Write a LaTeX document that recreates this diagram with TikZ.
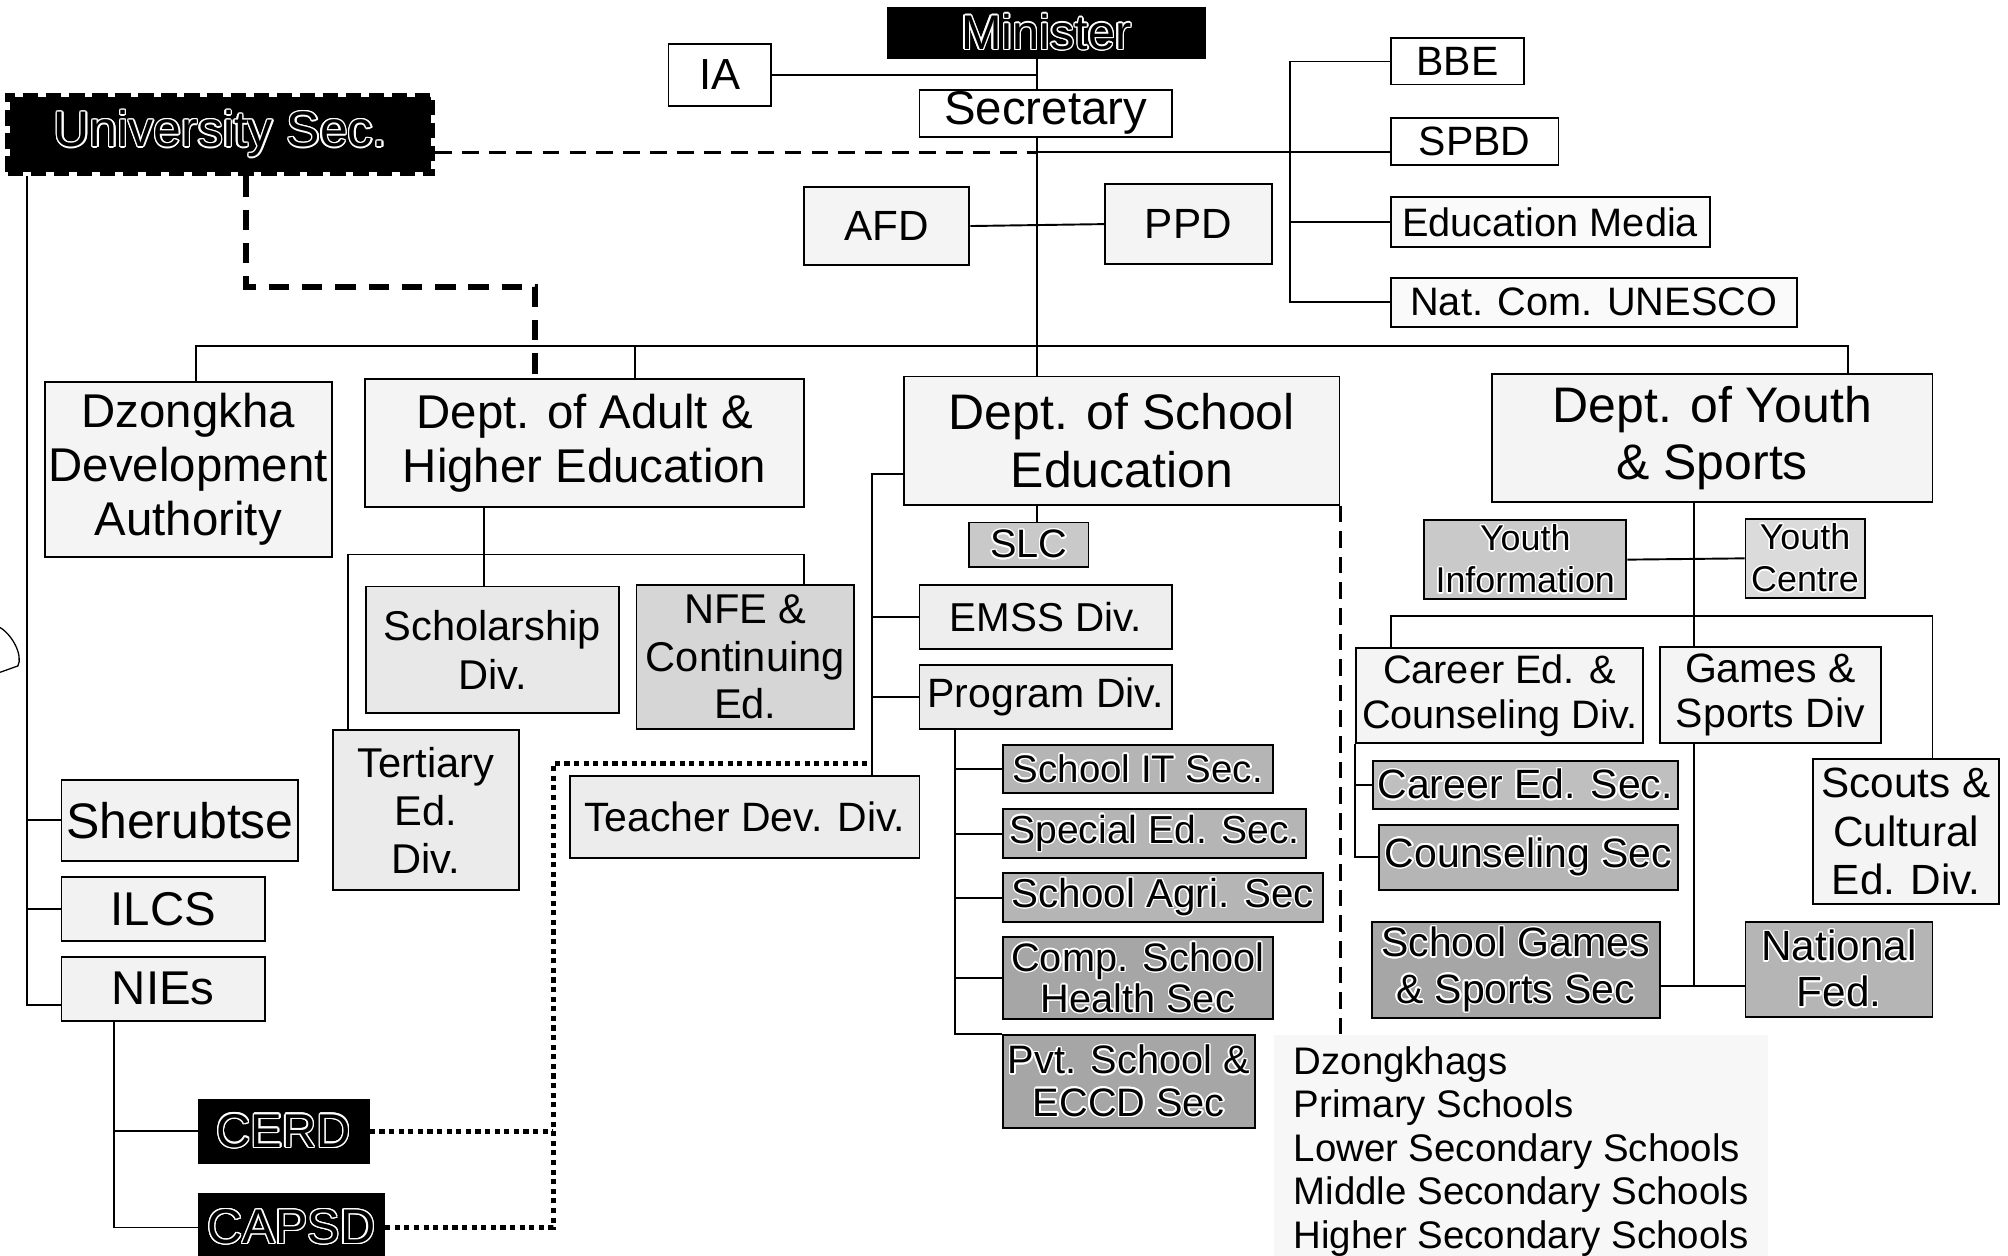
\documentclass[tikz,border=0pt]{standalone}
\usepackage{fontspec}
\setmainfont{Liberation Sans}
\usepackage{contour}
\contourlength{1.1pt}
\newcommand\fz[2]{\fontsize{#1}{#2}\selectfont}
\newcommand\hw[1]{\contour{white}{#1}}
\begin{document}
\begin{tikzpicture}[x=1pt,y=-1pt,
  box/.style={draw, line width=1.5pt, inner sep=0pt, align=center},
  conn/.style={line width=1.5pt},
  lite/.style={fill=gray!9},
  med/.style={fill=gray!32},
  dark/.style={fill=gray!58},
  darker/.style={fill=gray!70},
  blk/.style={fill=black},
  dashA/.style={line width=2.6pt, dash pattern=on 13pt off 8pt},
  dashB/.style={line width=4.5pt, dash pattern=on 16pt off 10pt},
  dashC/.style={line width=3pt, dash pattern=on 13pt off 7pt},
  dotA/.style={line width=4pt, dash pattern=on 4pt off 3.5pt}]
\useasboundingbox (0,0) rectangle (1568,980);
\fill[white] (0,0) rectangle (1568,980);

% background of schools list
\node[anchor=north west, fill=gray!6, inner xsep=15pt, inner ysep=9pt, align=left, font={\fz{30}{34}}] (Schools) at (995,808)
  {Dzongkhags\\Primary Schools\\Lower Secondary Schools\\Middle Secondary Schools\\Higher Secondary Schools};

% top
\node[box, blk, minimum width=248pt, minimum height=39pt, font={\fz{38}{42}}] (Minister) at (817,25.5) {\hw{Minister}};
\node[box, fill=white, minimum width=80pt, minimum height=49pt, font={\fz{34}{38}}] (IA) at (562,58.5) {IA};
\node[box, fill=white, minimum width=197pt, minimum height=37pt, font={\fz{37}{40}}] (Secretary) at (816.5,88.5) {Secretary};
\node[box, lite, minimum width=129pt, minimum height=61pt, font={\fz{33}{36}}] (AFD) at (692.5,176.5) {AFD};
\node[box, lite, minimum width=130pt, minimum height=62pt, font={\fz{33}{36}}] (PPD) at (928,175) {PPD};
\node[box, fill=white, minimum width=104pt, minimum height=36pt, font={\fz{32}{36}}] (BBE) at (1138,48) {BBE};
\node[box, fill=white, minimum width=131pt, minimum height=37pt, font={\fz{32}{36}}] (SPBD) at (1151.5,110.5) {SPBD};
\node[box, fill=gray!4, minimum width=249pt, minimum height=39pt, font={\fz{31}{35}}] (EduMedia) at (1210.5,173.5) {Education Media};
\node[box, fill=gray!4, minimum width=317pt, minimum height=38pt, font={\fz{31}{35}}] (UNESCO) at (1244.5,236) {Nat. Com. UNESCO};
\node[box, blk, draw=white, line width=3.5pt, postaction={draw=black, line width=3.5pt, dash pattern=on 12pt off 6pt},
  minimum width=332pt, minimum height=62pt, font={\fz{39}{42}}] (UniSec) at (172,105) {\hw{University Sec.}};

% departments
\node[box, lite, minimum width=224pt, minimum height=137pt, font={\fz{37}{42}}] (Dzongkha) at (147,366.5) {Dzongkha\\Development\\Authority};
\node[box, lite, minimum width=343pt, minimum height=100pt, font={\fz{37}{42}}] (Adult) at (456.5,346) {Dept. of Adult \&\\Higher Education};
\node[box, lite, minimum width=340pt, minimum height=100pt, font={\fz{39}{45}}] (School) at (876,344) {Dept. of School\\Education};
\node[box, lite, minimum width=344pt, minimum height=100pt, font={\fz{39}{45}}] (Youth) at (1337,342) {Dept. of Youth\\\& Sports};

% adult & higher
\node[box, fill=gray!18, minimum width=197pt, minimum height=99pt, font={\fz{32.5}{38}}] (Scholarship) at (384.5,507.5) {Scholarship\\Div.};
\node[box, med, minimum width=170pt, minimum height=112pt, font={\fz{32.5}{37}}] (NFE) at (582,513) {NFE \&\\Continuing\\Ed.};
\node[box, fill=gray!16, minimum width=145pt, minimum height=125pt, font={\fz{32.5}{37.5}}] (Tertiary) at (332.5,632.5) {Tertiary\\Ed.\\Div.};
\node[box, fill=gray!15, minimum width=273pt, minimum height=64pt, font={\fz{32}{36}}] (Teacher) at (581.5,638) {Teacher Dev. Div.};

% school education
\node[box, fill=gray!42, minimum width=93pt, minimum height=35pt, font={\fz{31}{34}}] (SLC) at (803.5,425.5) {\hw{SLC}};
\node[box, fill=gray!13, minimum width=197pt, minimum height=50pt, font={\fz{31.5}{35}}] (EMSS) at (816.5,482) {EMSS Div.};
\node[box, fill=gray!16, minimum width=197pt, minimum height=50pt, font={\fz{32}{35}}] (Program) at (816.5,544) {Program Div.};
\node[box, dark, minimum width=211pt, minimum height=37pt, font={\fz{30}{34}}] (SchoolIT) at (888.5,600.5) {\hw{School IT Sec.}};
\node[box, dark, minimum width=237pt, minimum height=38pt, font={\fz{30.5}{34}}] (SpecialEd) at (901.5,651) {\hw{Special Ed. Sec.}};
\node[box, dark, minimum width=250pt, minimum height=38pt, font={\fz{31.5}{34}}] (Agri) at (908,701) {\hw{School Agri. Sec}};
\node[box, darker, minimum width=211pt, minimum height=64pt, font={\fz{31}{32}}] (Health) at (888.5,764) {\hw{Comp. School}\\\hw{Health Sec}};
\node[box, darker, minimum width=197pt, minimum height=73pt, font={\fz{31}{33}}] (Pvt) at (881.5,844.5) {\hw{Pvt. School \&}\\\hw{ECCD Sec}};

% university
\node[box, fill=gray!10, minimum width=185pt, minimum height=63pt, font={\fz{39}{42}}] (Sherubtse) at (140.5,640.5) {Sherubtse};
\node[box, fill=gray!10, minimum width=159pt, minimum height=50pt, font={\fz{37}{40}}] (ILCS) at (127.5,710) {ILCS};
\node[box, fill=gray!10, minimum width=159pt, minimum height=50pt, font={\fz{37}{40}}] (NIEs) at (127.5,772) {NIEs};
\node[box, blk, minimum width=133pt, minimum height=49pt, font={\fz{37}{40}}] (CERD) at (221.5,883.5) {\hw{CERD}};
\node[box, blk, minimum width=145pt, minimum height=53pt, font={\fz{38}{40}}] (CAPSD) at (227.5,958.5) {\hw{CAPSD}};

% youth
\node[box, fill=gray!42, minimum width=158pt, minimum height=62pt, font={\fz{28}{33}}] (YouthInfo) at (1191,437) {\hw{Youth}\\\hw{Information}};
\node[box, fill=gray!28, minimum width=93pt, minimum height=62pt, font={\fz{28}{33}}] (YouthCentre) at (1409.5,436) {\hw{Youth}\\\hw{Centre}};
\node[box, lite, minimum width=224pt, minimum height=74pt, font={\fz{31}{35}}] (CareerDiv) at (1171,543) {Career Ed. \&\\Counseling Div.};
\node[box, lite, minimum width=173pt, minimum height=75pt, font={\fz{32}{35}}] (Games) at (1382.5,542.5) {Games \&\\Sports Div};
\node[box, fill=gray!50, minimum width=238pt, minimum height=38pt, font={\fz{32}{34}}] (CareerSec) at (1191,613) {\hw{Career Ed. Sec.}};
\node[box, dark, minimum width=233pt, minimum height=51pt, font={\fz{32}{34}}] (CounselSec) at (1193.5,669.5) {\hw{Counseling Sec}};
\node[box, darker, minimum width=225pt, minimum height=75pt, font={\fz{32}{36}}] (SchoolGames) at (1183.5,757.5) {\hw{School Games}\\\hw{\& Sports Sec}};
\node[box, dark, minimum width=146pt, minimum height=74pt, font={\fz{33}{36}}] (NatFed) at (1436,757) {\hw{National}\\\hw{Fed.}};
\node[box, lite, minimum width=145pt, minimum height=113pt, font={\fz{33}{38}}] (Scouts) at (1488.5,649.5) {Scouts \&\\Cultural\\Ed. Div.};

% helper coordinates
\coordinate (sp) at (810,0);
\coordinate (hy) at (0,119);
\coordinate (brx) at (1007,0);
\coordinate (busL) at (153,270);
\coordinate (busR) at (1443,270);
\coordinate (adx) at (496,0);
\coordinate (udx) at (192,224);
\coordinate (ud2) at (418,224);
\coordinate (a1) at (378,433);
\coordinate (t1) at (272,433);
\coordinate (n1) at (628,433);
\coordinate (s1) at (681,370);
\coordinate (p1) at (746,0);
\coordinate (u1) at (21,0);
\coordinate (n2) at (89,0);
\coordinate (d1) at (432,596);
\coordinate (y1) at (1323,0);
\coordinate (yb) at (0,481);
\coordinate (cx) at (1086,0);
\coordinate (rx) at (1509,0);
\coordinate (gy) at (0,770);
\coordinate (nie) at ([yshift=-13pt]NIEs.west);

% connectors top
\draw[conn] (sp |- Minister.south) -- (sp |- Secretary.north);
\draw[conn] (IA.east) -- (IA.east -| sp);
\draw[conn] (sp |- Secretary.south) -- (sp |- School.north);
\draw[conn] (AFD.east) -- (PPD.west);
\draw[dashA] (UniSec.east |- hy) -- (sp |- hy);
\draw[conn] (sp |- hy) -- (SPBD.west |- hy);
\draw[conn] (BBE.west) -- (BBE.west -| brx) -- (UNESCO.west -| brx) -- (UNESCO.west);
\draw[conn] (EduMedia.west) -- (EduMedia.west -| brx);

% bus
\draw[conn] (busL |- Dzongkha.north) -- (busL) -- (busR) -- (busR |- Youth.north);
\draw[conn] (adx |- busL) -- (adx |- Adult.north);
\draw[dashB] (udx |- UniSec.south) -- (udx) -- (ud2) -- (ud2 |- Adult.north);

% adult
\draw[conn] (a1 |- Adult.south) -- (a1 |- Scholarship.north);
\draw[conn] (t1 |- Tertiary.north) -- (t1) -- (n1) -- (n1 |- NFE.north);

% school
\draw[conn] (School.west |- s1) -- (s1) -- (s1 |- Teacher.north);
\draw[conn] (s1 |- EMSS.west) -- (EMSS.west);
\draw[conn] (s1 |- Program.west) -- (Program.west);
\draw[conn] (sp |- School.south) -- (sp |- SLC.north);
\draw[conn] (p1 |- Program.south) -- (p1 |- Pvt.north west) -- (Pvt.north west);
\draw[conn] (p1 |- SchoolIT.west) -- (SchoolIT.west);
\draw[conn] (p1 |- SpecialEd.west) -- (SpecialEd.west);
\draw[conn] (p1 |- Agri.west) -- (Agri.west);
\draw[conn] (p1 |- Health.west) -- (Health.west);
\draw[dashC] (School.south east) -- (School.south east |- Schools.north);

% university
\draw[conn] (u1 |- UniSec.south) -- (u1 |- nie) -- (nie);
\draw[conn] (u1 |- Sherubtse.west) -- (Sherubtse.west);
\draw[conn] (u1 |- ILCS.west) -- (ILCS.west);
\draw[conn] (n2 |- NIEs.south) -- (n2 |- CAPSD.west) -- (CAPSD.west);
\draw[conn] (n2 |- CERD.west) -- (CERD.west);
\draw[dotA] (CERD.east) -- (CERD.east -| d1);
\draw[dotA] (CAPSD.east) -- (CAPSD.east -| d1) -- (d1) -- (s1 |- d1);

% youth
\draw[conn] (y1 |- Youth.south) -- (y1 |- Games.north);
\draw[conn] (YouthInfo.east) -- (YouthCentre.west);
\draw[conn] (cx |- CareerDiv.north) -- (cx |- yb) -- (rx |- yb) -- (rx |- Scouts.north);
\draw[conn] (y1 |- Games.south) -- (y1 |- gy);
\draw[conn] (SchoolGames.east |- gy) -- (NatFed.west |- gy);
\draw[conn] (CareerDiv.south west) -- (CareerDiv.south west |- CounselSec.west) -- (CounselSec.west);
\draw[conn] (CareerDiv.south west |- CareerSec.west) -- (CareerSec.west);

% scribble at left edge
\draw[line width=1pt] (0,490) .. controls (10,496) and (18,512) .. (14,520) -- (0,525);
\end{tikzpicture}
\end{document}
